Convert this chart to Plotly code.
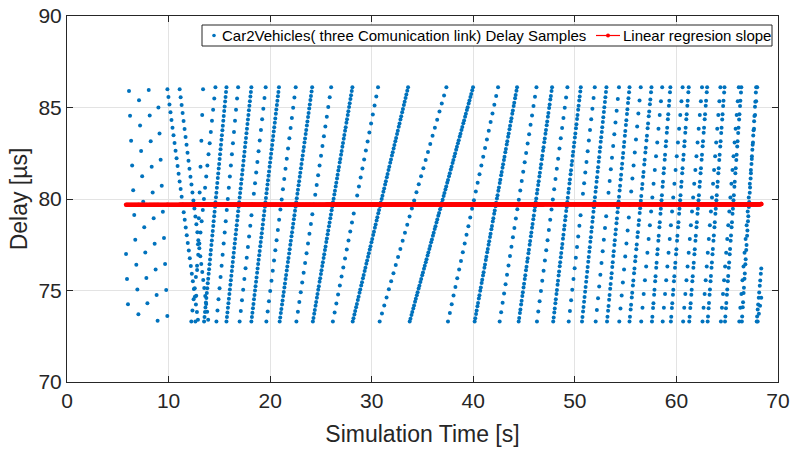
import numpy as np
import plotly.graph_objects as go

# ---- Delay samples, read from the reference as slanted stripes of samples ----
# each stripe: first sample (t0 [s], d0 [us]) -> last sample (t1, d1), n sample positions;
# pair_gap > 0 means every position holds two samples that far apart in delay [us]
stripe_t0 = [5.813, 6.105, 7.09, 8.046, 9.00,                 # early descending columns
             9.886, 11.092, 12.641,                            # transition stripes
             13.496, 15.699, 18.152, 20.937, 24.206, 28.128, 33.739, 40.135, 44.469, 47.868,
             50.704, 53.168, 55.38, 57.593, 59.453, 61.263, 63.073, 64.783, 66.442, 67.901,  # paired family
             12.239, 14.713, 16.995, 19.63, 22.587, 26.177, 30.782, 37.51, 42.598, 46.269,
             49.397, 52.051, 54.374, 56.536, 58.648, 60.659, 62.569, 64.379, 66.189, 68.0]    # single family
stripe_d0 = [77.0, 85.9, 85.4, 85.96, 85.0,
             86.0, 86.0, 73.3,
             73.3, 73.3, 73.3, 73.3, 73.3, 73.3, 73.3, 73.3, 73.3, 73.3,
             73.3, 73.3, 73.3, 73.3, 73.3, 73.3, 73.3, 73.3, 73.3, 73.3,
             73.3, 73.3, 73.3, 73.3, 73.3, 73.3, 73.3, 73.3, 73.3, 73.3,
             73.3, 73.3, 73.3, 73.3, 73.3, 73.3, 73.3, 73.3, 73.3, 73.3]
stripe_t1 = [6.004, 7.03, 7.915, 8.92, 9.876,
             12.892, 13.898, 13.395,
             15.70, 18.15, 20.867, 24.135, 28.098, 33.578, 39.974, 44.308, 47.757, 50.583,
             53.108, 55.38, 57.543, 59.403, 61.212, 63.022, 64.732, 66.391, 67.85, 68.352,
             14.612, 16.845, 19.56, 22.516, 26.006, 30.622, 37.35, 42.437, 46.219, 49.266,
             51.96, 54.344, 56.486, 58.598, 60.609, 62.519, 64.329, 66.139, 67.951, 68.352]
stripe_d1 = [74.25, 73.7, 74.3, 73.35, 73.6,
             73.4, 73.4, 86.0,
             86.1, 86.1, 86.1, 86.1, 86.1, 86.1, 86.1, 86.1, 86.1, 86.1,
             86.1, 86.1, 86.1, 86.1, 86.1, 86.1, 86.1, 86.1, 86.1, 76.2,
             86.1, 86.1, 86.1, 86.1, 86.1, 86.1, 86.1, 86.1, 86.1, 86.1,
             86.1, 86.1, 86.1, 86.1, 86.1, 86.1, 86.1, 86.1, 86.1, 74.6]
stripe_n = [3, 10, 9, 10, 9,
            31, 30, 10,
            25, 26, 27, 28, 30, 33, 36, 31, 28, 26,
            24, 22, 20, 18, 18, 18, 18, 18, 17, 5,
            22, 22, 23, 24, 25, 27, 30, 28, 26, 24,
            23, 21, 19, 18, 18, 18, 18, 18, 18, 4]
stripe_pair_gap = [0, 0, 0, 0, 0,
                   0, 0, 0,
                   0.25, 0.25, 0.25, 0.22, 0.2, 0.18, 0.16, 0.18, 0.2, 0.22,
                   0.25, 0.26, 0.26, 0.27, 0.27, 0.27, 0.28, 0.28, 0.28, 0.28,
                   0, 0, 0, 0, 0, 0, 0, 0, 0, 0,
                   0, 0, 0, 0, 0, 0, 0, 0, 0, 0]

# linear regression line (read end values)
reg_d_start = 79.68
reg_d_end = 79.72

x_ticks = [0, 10, 20, 30, 40, 50, 60, 70]
y_ticks = [70, 75, 80, 85, 90]

series_names = ["Car2Vehicles( three Comunication link) Delay Samples",
                "Linear regresion slope"]

BLUE = "#0072BD"
RED = "#FF0000"

# ---- build sample arrays from the stripes ----
xs, ys = [], []
for t0, d0, t1, d1, n, g in zip(stripe_t0, stripe_d0, stripe_t1, stripe_d1,
                                stripe_n, stripe_pair_gap):
    if g > 0:
        base = np.linspace(d0, d1 - g, n)
        dd = np.concatenate([base, base + g])
    else:
        dd = np.linspace(d0, d1, n)
    tt = t0 + (dd - d0) / (d1 - d0) * (t1 - t0)
    xs.append(tt)
    ys.append(dd)
x = np.concatenate(xs)
y = np.concatenate(ys)

xr = np.sort(x)
yr = reg_d_start + (reg_d_end - reg_d_start) * (xr - xr[0]) / (xr[-1] - xr[0])

fig = go.Figure()
fig.add_trace(go.Scatter(
    x=x, y=y, mode="markers",
    marker=dict(color=BLUE, size=4),
    name=series_names[0], showlegend=False))
fig.add_trace(go.Scatter(
    x=xr, y=yr, mode="lines+markers",
    line=dict(color=RED, width=1.5),
    marker=dict(color=RED, size=4.5),
    name=series_names[1], showlegend=False))

# ---- layout geometry (pixels of the 791x449 page) ----
W, H = 791, 449
ML, MR, MT, MB = 67, 13, 16, 67
PW, PH = W - ML - MR, H - MT - MB


def px(xp):
    return (xp - ML) / PW


def py(yp):
    return (H - MB - yp) / PH


axis_common = dict(
    showgrid=True, gridcolor="#E3E3E3", gridwidth=1,
    showline=True, linecolor="#262626", linewidth=1, mirror="ticks",
    ticks="inside", ticklen=6, tickcolor="#262626",
    zeroline=False, tickfont=dict(size=21, color="#262626"),
    ticklabeloverflow="allow", automargin=False,
)

# legend drawn as a boxed key inside the axes (MATLAB style)
box_l, box_r, box_t, box_b = 202, 772, 25, 46
key_y = 35.5
shapes = [
    dict(type="rect", xref="paper", yref="paper",
         x0=px(box_l), x1=px(box_r), y0=py(box_b), y1=py(box_t),
         fillcolor="white", line=dict(color="#262626", width=1), layer="above"),
    dict(type="circle", xref="paper", yref="paper",
         x0=px(212.2), x1=px(215.8), y0=py(key_y + 1.8), y1=py(key_y - 1.8),
         fillcolor=BLUE, line=dict(width=0), layer="above"),
    dict(type="line", xref="paper", yref="paper",
         x0=px(596), x1=px(620), y0=py(key_y), y1=py(key_y),
         line=dict(color=RED, width=1.2), layer="above"),
    dict(type="circle", xref="paper", yref="paper",
         x0=px(606), x1=px(610), y0=py(key_y + 2), y1=py(key_y - 2),
         fillcolor=RED, line=dict(width=0), layer="above"),
]
annotations = [
    dict(text=series_names[0], xref="paper", yref="paper", x=px(220), y=py(key_y),
         xanchor="left", yanchor="middle", showarrow=False,
         font=dict(size=15, color="#000000")),
    dict(text=series_names[1], xref="paper", yref="paper", x=px(621), y=py(key_y),
         xanchor="left", yanchor="middle", showarrow=False,
         font=dict(size=15, color="#000000")),
]

fig.update_layout(
    width=W, height=H,
    margin=dict(l=ML, r=MR, t=MT, b=MB),
    paper_bgcolor="white", plot_bgcolor="white",
    font=dict(family="Liberation Sans, Arial, sans-serif", color="#262626"),
    xaxis=dict(range=[0, 70], tickvals=x_ticks,
               title=dict(text="Simulation Time [s]", font=dict(size=23), standoff=14),
               **axis_common),
    yaxis=dict(range=[70, 90], tickvals=y_ticks,
               title=dict(text="Delay [µs]", font=dict(size=23), standoff=4),
               **axis_common),
    shapes=shapes,
    annotations=annotations,
    showlegend=False,
)
fig.write_html("out.html")
